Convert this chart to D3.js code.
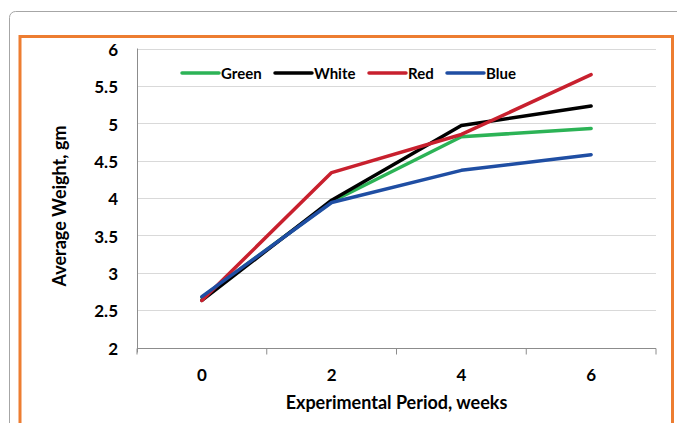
<!DOCTYPE html>
<html>
<head>
<meta charset="utf-8">
<script src="https://cdn.jsdelivr.net/npm/d3@7"></script>
<style>
  body { margin: 0; background: #fff; }
  svg { display: block; font-family: Lato, "Open Sans", sans-serif; font-weight: bold; }
</style>
</head>
<body>
<div id="chart"></div>
<script>
const weeks = [0, 2, 4, 6];
const green = [2.67, 3.95, 4.82, 4.93];
const white = [2.63, 3.97, 4.97, 5.23];
const red = [2.63, 4.34, 4.85, 5.65];
const blue = [2.68, 3.94, 4.37, 4.58];
const yTicks = [2, 2.5, 3, 3.5, 4, 4.5, 5, 5.5, 6];

const series = [
  { name: "Green", values: green, color: "#2cb356" },
  { name: "White", values: white, color: "#000000" },
  { name: "Red", values: red, color: "#c8202e" },
  { name: "Blue", values: blue, color: "#1f4ea3" },
];

const width = 677, height = 423;
const margin = { top: 48.5, right: 21, bottom: 75.5, left: 137 };

const svg = d3.select("#chart").append("svg")
  .attr("width", width).attr("height", height);

// outer frames
svg.append("rect")
  .attr("x", 9.5).attr("y", 11.5).attr("width", 700).attr("height", 450)
  .attr("rx", 6).attr("fill", "none").attr("stroke", "#a6a6a6");
svg.append("rect")
  .attr("x", 20).attr("y", 36.5).attr("width", 652.5).attr("height", 430)
  .attr("fill", "#fff").attr("stroke", "#ed7d31").attr("stroke-width", 3);

const x = d3.scaleBand()
  .domain(weeks)
  .range([margin.left, width - margin.right]);
const y = d3.scaleLinear()
  .domain([2, 6])
  .range([height - margin.bottom, margin.top]);

// gridlines
svg.append("g")
  .selectAll("line")
  .data(yTicks.slice(1))
  .join("line")
  .attr("x1", margin.left).attr("x2", width - margin.right)
  .attr("y1", (d) => Math.round(y(d)) + 0.5).attr("y2", (d) => Math.round(y(d)) + 0.5)
  .attr("stroke", "#d9d9d9");

// y axis
svg.append("g")
  .attr("transform", `translate(${margin.left},0)`)
  .call(d3.axisLeft(y).tickValues(yTicks).tickSize(0).tickPadding(19).tickFormat((d) => d))
  .attr("font-size", 17)
  .attr("font-family", null)
  .call((g) => g.select(".domain").attr("stroke", "#8c8c8c").attr("d", `M0.5,${margin.top}V${height - margin.bottom + 5}`))
  .call((g) => g.selectAll(".tick text").attr("fill", "#000").attr("font-weight", "bold").attr("dy", "0.4em"));

// x axis
const gx = svg.append("g")
  .attr("transform", `translate(0,${Math.round(height - margin.bottom) + 0.5})`)
  .call(d3.axisBottom(x).tickSize(0).tickPadding(20))
  .attr("font-size", 17)
  .attr("font-family", null)
  .call((g) => g.select(".domain").attr("stroke", "#8c8c8c").attr("d", `M${margin.left},0H${width - margin.right}`))
  .call((g) => g.selectAll(".tick text").attr("fill", "#000").attr("font-weight", "bold"));
gx.append("g")
  .selectAll("line")
  .data(weeks.concat(["end"]))
  .join("line")
  .attr("x1", (d) => (d === "end" ? x.range()[1] : x(d)))
  .attr("x2", (d) => (d === "end" ? x.range()[1] : x(d)))
  .attr("y1", 0).attr("y2", 6)
  .attr("stroke", "#8c8c8c");

// axis titles
svg.append("text")
  .attr("x", (margin.left + width - margin.right) / 2)
  .attr("y", 409)
  .attr("text-anchor", "middle")
  .attr("font-size", 18)
  .text("Experimental Period, weeks");
svg.append("text")
  .attr("transform", `translate(66,${(margin.top + height - margin.bottom) / 2 + 8}) rotate(-90)`)
  .attr("text-anchor", "middle")
  .attr("font-size", 18)
  .text("Average Weight, gm");

// lines
const line = d3.line()
  .x((d, i) => x(weeks[i]) + x.bandwidth() / 2)
  .y((d) => y(d));
svg.append("g")
  .selectAll("path")
  .data(series)
  .join("path")
  .attr("d", (d) => line(d.values))
  .attr("fill", "none")
  .attr("stroke", (d) => d.color)
  .attr("stroke-width", 3.5)
  .attr("stroke-linejoin", "round")
  .attr("stroke-linecap", "round");

// legend
const legendX = [182, 275, 369, 447];
const legend = svg.append("g")
  .selectAll("g")
  .data(series)
  .join("g")
  .attr("transform", (d, i) => `translate(${legendX[i]},73)`);
legend.append("line")
  .attr("x1", 0).attr("x2", 37)
  .attr("stroke", (d) => d.color)
  .attr("stroke-width", 3.5)
  .attr("stroke-linecap", "round");
legend.append("text")
  .attr("x", 39).attr("y", 5.5)
  .attr("font-size", 15)
  .text((d) => d.name);
</script>
</body>
</html>
